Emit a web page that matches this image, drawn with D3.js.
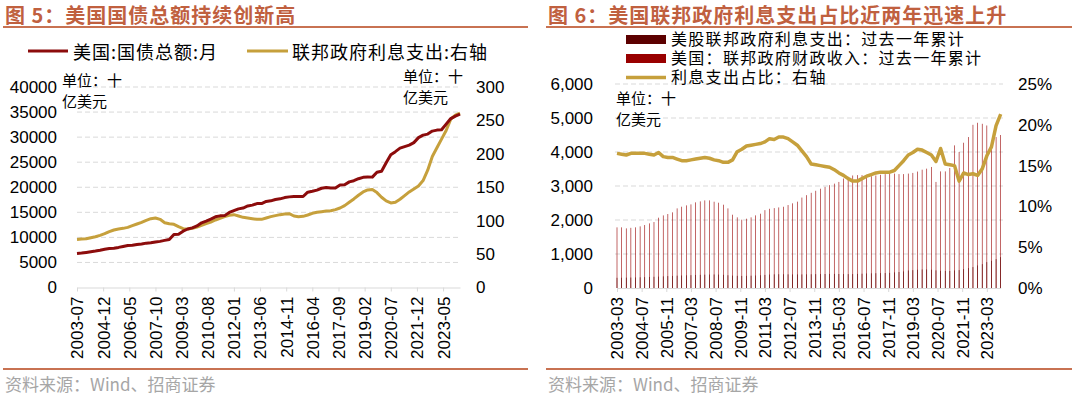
<!DOCTYPE html>
<html>
<head>
<meta charset="utf-8">
<style>
  body { margin: 0; background: #fff; }
  .cn { font-family: "Noto Sans CJK SC", sans-serif; }
  .cnl { font-family: "Liberation Sans", "Noto Sans CJK SC", sans-serif; }
</style>
</head>
<body>
<svg id="chart" width="1072" height="394"></svg>
<script src="https://cdnjs.cloudflare.com/ajax/libs/d3/7.8.5/d3.min.js"></script>
<script>
// ---------- data ----------
// left panel: quarterly readings, 2003-07 .. 2024-04 (十亿美元)
var debtTotal = [6780,6870,7000,7140,7270,7430,7630,7780,7840,8000,8190,8370,8420,8570,8680,8850,8930,9080,
  9200,9400,9580,10570,10630,11240,11670,11900,12280,12900,13250,13660,14100,14290,14340,14970,15330,15690,
  15860,16260,16430,16740,16740,17160,17290,17560,17690,17940,18080,18150,18150,18150,19010,19190,19430,19800,
  19950,19850,19840,20440,20490,21070,21310,21700,21980,22030,22020,23000,23200,24900,26500,27100,27800,28100,
  28400,28900,29900,30400,30600,31200,31400,31460,32600,33700,34200,34600];
var interestPaid = [72,72.5,73,74.5,76,78,80.5,83.5,86,87.5,88.5,90,92.5,95,97.5,100.5,103,104,102,97,95.5,94.5,
  91,88,87.5,88.5,90.5,93,95.5,98,101,103.5,106,108,109,107,105,104,103,102,102,104,106,107.5,109,110,110.5,107,
  106,106.5,108.5,111,112.5,113.5,114.3,114.8,116.5,119,122.5,127.5,132.5,138,143,146,146.5,142,135,129.5,126.5,
  127.5,132,137.5,143,147.5,152,160,175.5,196,209,222,235,252,258,261];
var leftTicks = ["2003-07","2004-12","2006-05","2007-10","2009-03","2010-08","2012-01","2013-06","2014-11",
  "2016-04","2017-09","2019-02","2020-07","2021-12","2023-05"];

// right panel: quarterly, 2003-03 .. 2023-12
var fedRevenue = [1784,1784,1754,1770,1784,1813,1852,1901,1940,2068,2136,2176,2225,2342,2391,2430,2460,2519,2548,
  2577,2577,2538,2509,2450,2342,2156,2078,2009,2038,2078,2136,2185,2290,2330,2350,2370,2390,2440,2490,2540,2660,
  2730,2800,2860,2920,2975,3025,3070,3120,3220,3270,3310,3320,3320,3270,3290,3310,3330,3350,3365,3365,3350,3350,
  3365,3385,3425,3480,3510,3560,3120,3430,3430,3530,4195,4000,4273,4440,4800,4860,4830,4780,4200,4440,4500];
var fedInterest = [300,302,305,308,310,315,320,325,330,335,342,350,355,362,368,372,378,383,388,392,395,398,395,388,
  375,365,358,355,358,362,368,375,385,395,402,405,405,402,400,400,400,402,405,408,410,412,414,415,412,410,408,410,
  415,420,428,432,435,438,440,445,460,470,488,515,525,537,546,546,537,520,505,500,500,517,527,556,585,615,663,702,
  761,800,849,907];
var interestShare = [16.5,16.4,16.3,16.5,16.5,16.5,16.5,16.4,16.3,16.6,16.1,16.0,16.0,15.8,15.6,15.6,15.7,15.8,15.9,
  16.0,15.9,15.7,15.6,15.4,15.4,15.7,16.7,17.0,17.4,17.5,17.6,17.7,17.9,18.3,18.2,18.5,18.5,18.3,17.9,17.5,16.8,
  16.1,15.2,15.1,15.0,14.9,14.8,14.5,14.1,13.8,13.4,13.1,13.1,13.4,13.7,13.9,14.1,14.2,14.2,14.2,14.4,15.0,15.6,
  16.3,16.6,17.0,16.9,16.6,16.3,15.5,17.1,15.2,15.1,15.0,13.1,14.1,13.9,14.0,13.8,14.6,16.2,17.3,19.9,21.3];
var rightTicks = ["2003-03","2004-07","2005-11","2007-03","2008-07","2009-11","2011-03","2012-07","2013-11",
  "2015-03","2016-07","2017-11","2019-03","2020-07","2021-11","2023-03"];

function monthList(y, m, n) {
  var out = [];
  for (var i = 0; i < n; i++) {
    var k = (y * 12 + m - 1) + i;
    var mm = k % 12 + 1;
    out.push(Math.floor(k / 12) + "-" + (mm < 10 ? "0" : "") + mm);
  }
  return out;
}

var titleColor = "#c0603f";
var gridColor = "#d9d9d9";
var red = "#8c0c0c", gold = "#c6a03c";

var svg = d3.select("#chart");

function frame(x0, x1, title) {
  svg.append("text").attr("class", "cn").attr("x", x0 + 2).attr("y", 14)
    .attr("dominant-baseline", "central").attr("font-size", 20).attr("font-weight", "bold")
    .attr("letter-spacing", 1).attr("fill", titleColor).text(title);
  svg.append("line").attr("x1", x0).attr("x2", x1).attr("y1", 27).attr("y2", 27)
    .attr("stroke", "#c87252").attr("stroke-width", 2);
  svg.append("line").attr("x1", x0).attr("x2", x1).attr("y1", 369).attr("y2", 369)
    .attr("stroke", "#c87252").attr("stroke-width", 2);
  svg.append("text").attr("class", "cn").attr("x", x0 + 2).attr("y", 383)
    .attr("dominant-baseline", "central").attr("font-size", 17).attr("fill", "#a6a6a6")
    .text("资料来源：Wind、招商证券");
}

function styleAxis(g, size) {
  g.attr("font-family", "Liberation Sans, Arial, sans-serif").attr("font-size", size);
  g.selectAll("text").attr("fill", "#000");
}

function xAxis(x, ticks, y) {
  var g = svg.append("g").attr("transform", "translate(0," + y + ")")
    .call(d3.axisBottom(x).tickValues(ticks).tickSize(4).tickSizeOuter(0));
  styleAxis(g, 17);
  g.select(".domain").attr("stroke", gridColor);
  g.selectAll(".tick line").attr("stroke", gridColor);
  g.selectAll("text").attr("transform", "rotate(-90)")
    .attr("x", -9).attr("y", 0).attr("dy", "0.35em").style("text-anchor", "end");
}

function grid(y, ticks, x0, x1) {
  svg.append("g").selectAll("line").data(ticks.filter(function (d) { return d > 0; })).enter()
    .append("line").attr("x1", x0).attr("x2", x1)
    .attr("y1", function (d) { return y(d); }).attr("y2", function (d) { return y(d); })
    .attr("stroke", gridColor).attr("stroke-dasharray", "5,3");
}

function unitLabel(x, y) {
  svg.append("text").attr("class", "cnl").attr("x", x).attr("y", y).attr("dominant-baseline", "central")
    .attr("font-size", 15).attr("fill", "#000").text("单位：十");
  svg.append("text").attr("class", "cnl").attr("x", x).attr("y", y + 21).attr("dominant-baseline", "central")
    .attr("font-size", 15).attr("fill", "#000").text("亿美元");
}

// ---------- left panel ----------
frame(3, 528, "图 5：美国国债总额持续创新高");

var leftMonths = monthList(2003, 7, 250);
var leftPts = leftMonths.filter(function (d, i) { return i % 3 === 0; });
var xL = d3.scalePoint().domain(leftMonths).range([77, 460]);
var yL = d3.scaleLinear().domain([0, 40000]).range([287.5, 87]);
var yL2 = d3.scaleLinear().domain([0, 300]).range([287.5, 87]);
var yLTicks = d3.range(0, 40001, 5000);

grid(yL, yLTicks, 77, 461);

var gl = svg.append("g").attr("transform", "translate(57,0)")
  .call(d3.axisLeft(yL).tickValues(yLTicks).tickSize(0).tickPadding(0).tickFormat(d3.format("d")));
styleAxis(gl, 17); gl.select(".domain").remove();
var gr = svg.append("g").attr("transform", "translate(476,0)")
  .call(d3.axisRight(yL2).tickValues(d3.range(0, 301, 50)).tickSize(0).tickPadding(0));
styleAxis(gr, 17); gr.select(".domain").remove();

xAxis(xL, leftTicks, 287.5);

svg.append("path").datum(interestPaid)
  .attr("fill", "none").attr("stroke", gold).attr("stroke-width", 3).attr("stroke-linejoin", "round")
  .attr("d", d3.line().x(function (d, i) { return xL(leftPts[i]); }).y(function (d) { return yL2(d); }));
svg.append("path").datum(debtTotal)
  .attr("fill", "none").attr("stroke", red).attr("stroke-width", 3).attr("stroke-linejoin", "round")
  .attr("d", d3.line().x(function (d, i) { return xL(leftPts[i]); }).y(function (d) { return yL(d); }));

unitLabel(62, 80);
unitLabel(403, 76);

// legend
svg.append("line").attr("x1", 28).attr("x2", 68).attr("y1", 51).attr("y2", 51).attr("stroke", red).attr("stroke-width", 3);
svg.append("text").attr("class", "cn").attr("x", 73).attr("y", 51).attr("dominant-baseline", "central")
  .attr("font-size", 18).attr("letter-spacing", 1).text("美国:国债总额:月");
svg.append("line").attr("x1", 247).attr("x2", 288).attr("y1", 51).attr("y2", 51).attr("stroke", gold).attr("stroke-width", 3);
svg.append("text").attr("class", "cn").attr("x", 292).attr("y", 51).attr("dominant-baseline", "central")
  .attr("font-size", 18).attr("letter-spacing", 1).text("联邦政府利息支出:右轴");

// ---------- right panel ----------
frame(546, 1072, "图 6：美国联邦政府利息支出占比近两年迅速上升");

var rightMonths = monthList(2003, 3, 250);
var rightPts = rightMonths.filter(function (d, i) { return i % 3 === 0; });
var xR = d3.scalePoint().domain(rightMonths).range([617, 1000.7]);
var yR = d3.scaleLinear().domain([0, 6000]).range([288, 84]);
var yR2 = d3.scaleLinear().domain([0, 25]).range([288, 84]);
var yRTicks = d3.range(0, 6001, 1000);

grid(yR, yRTicks, 615, 1003);

var rl = svg.append("g").attr("transform", "translate(593,0)")
  .call(d3.axisLeft(yR).tickValues(yRTicks).tickSize(0).tickPadding(0).tickFormat(d3.format(",")));
styleAxis(rl, 17); rl.select(".domain").remove();
var rr = svg.append("g").attr("transform", "translate(1018,0)")
  .call(d3.axisRight(yR2).tickValues(d3.range(0, 26, 5)).tickSize(0).tickPadding(0)
    .tickFormat(function (d) { return d + "%"; }));
styleAxis(rr, 17); rr.select(".domain").remove();

var barW = 0.6;
svg.append("g").selectAll("rect").data(fedRevenue).enter().append("rect")
  .attr("x", function (d, i) { return xR(rightPts[i]) - barW / 2; })
  .attr("width", barW)
  .attr("y", function (d) { return yR(d); })
  .attr("height", function (d) { return yR(0) - yR(d); })
  .attr("fill", "#990000");
svg.append("g").selectAll("rect").data(fedInterest).enter().append("rect")
  .attr("x", function (d, i) { return xR(rightPts[i]) - barW / 2; })
  .attr("width", barW)
  .attr("y", function (d) { return yR(d); })
  .attr("height", function (d) { return yR(0) - yR(d); })
  .attr("fill", "#5c0000");

xAxis(xR, rightTicks, 288);

svg.append("path").datum(interestShare)
  .attr("fill", "none").attr("stroke", gold).attr("stroke-width", 3.5).attr("stroke-linejoin", "round")
  .attr("d", d3.line().x(function (d, i) { return xR(rightPts[i]); }).y(function (d) { return yR2(d); }));

unitLabel(616, 98);

// legend
var rLegend = [
  { label: "美股联邦政府利息支出：过去一年累计", color: "#5c0000", type: "rect", y: 39.5 },
  { label: "美国：联邦政府财政收入：过去一年累计", color: "#990000", type: "rect", y: 58.5 },
  { label: "利息支出占比：右轴", color: gold, type: "line", y: 77.5 }
];
rLegend.forEach(function (d) {
  if (d.type === "rect") {
    svg.append("rect").attr("x", 626).attr("y", d.y - 4.5).attr("width", 40).attr("height", 9).attr("fill", d.color);
  } else {
    svg.append("line").attr("x1", 626).attr("x2", 666).attr("y1", d.y).attr("y2", d.y)
      .attr("stroke", d.color).attr("stroke-width", 3.5);
  }
  svg.append("text").attr("class", "cnl").attr("x", 671).attr("y", d.y).attr("dominant-baseline", "central")
    .attr("font-size", 16).attr("letter-spacing", 1.3).text(d.label);
});
</script>
</body>
</html>
